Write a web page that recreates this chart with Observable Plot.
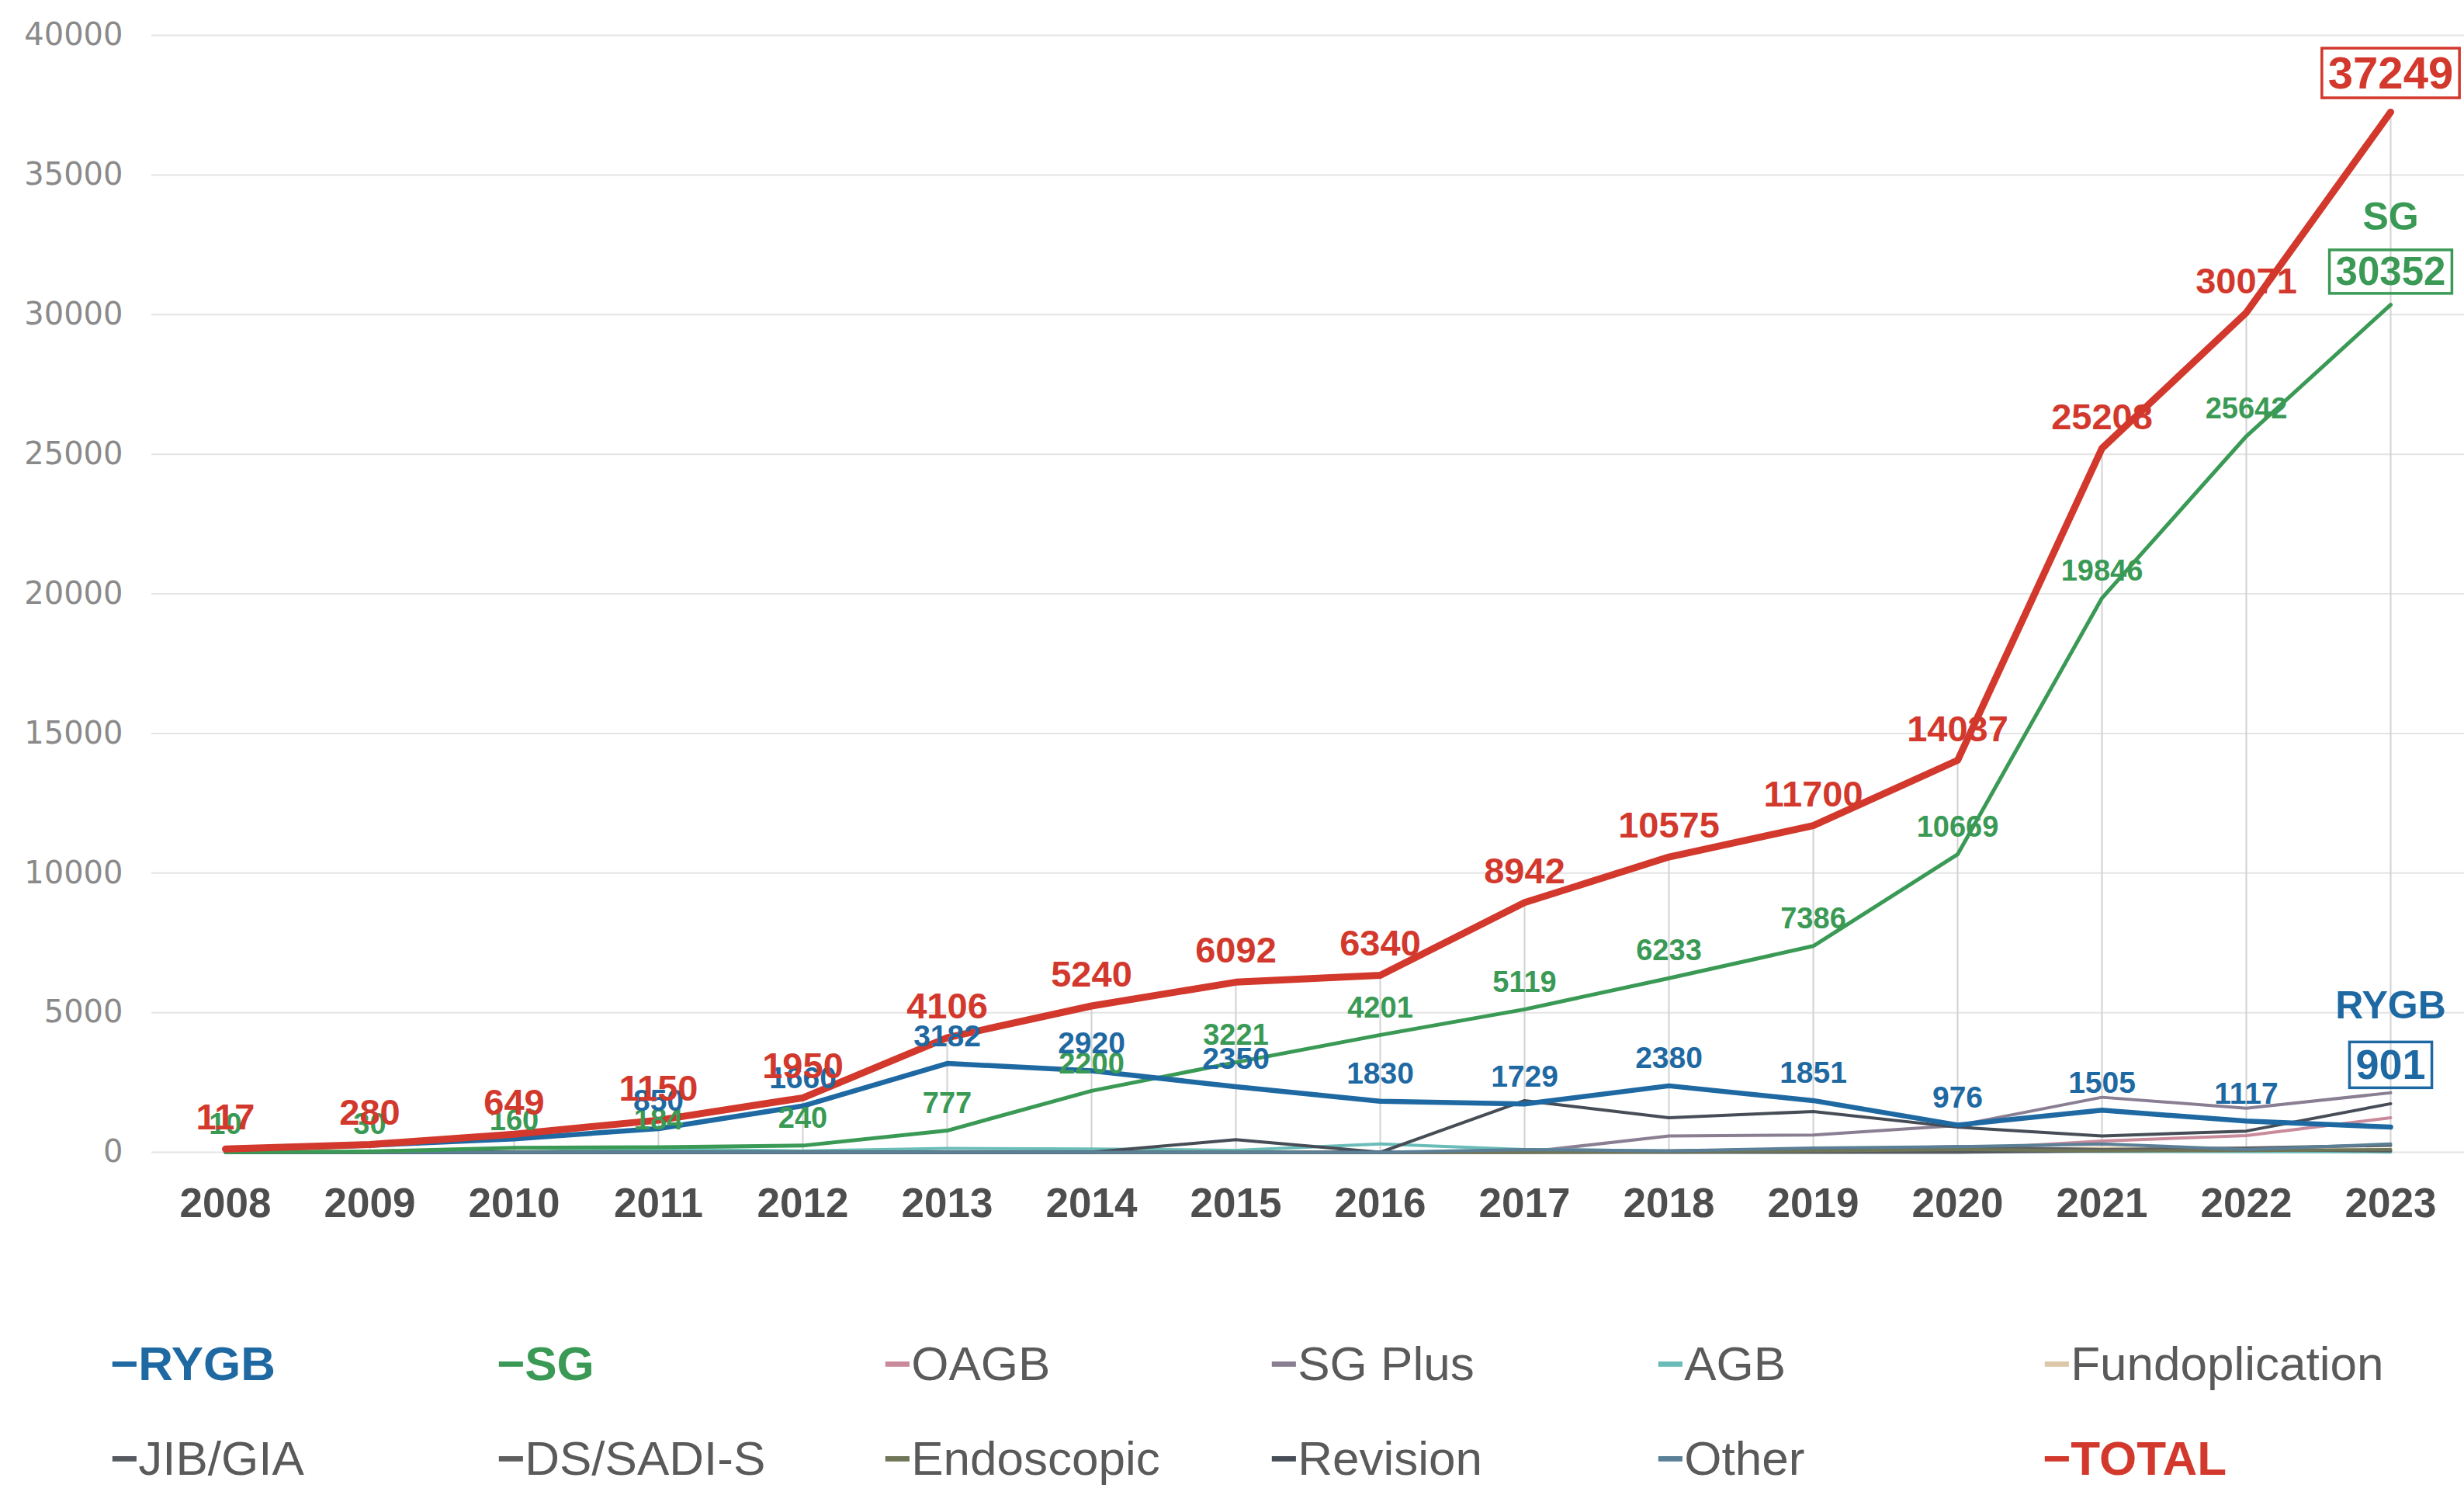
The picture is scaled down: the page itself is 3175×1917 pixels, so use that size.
<!DOCTYPE html>
<html>
<head>
<meta charset="utf-8">
<script src="https://cdn.jsdelivr.net/npm/d3@7"></script>
<script src="https://cdn.jsdelivr.net/npm/@observablehq/plot@0.6"></script>
<style>
  html, body { margin: 0; padding: 0; background: #ffffff; }
  body { width: 3175px; height: 1917px; overflow: hidden; font-family: "Liberation Sans", Arial, sans-serif; }
  #chart svg { display: block; }
  #legend {
    padding-top: 96px;
    padding-left: 142px;
    display: grid;
    grid-template-columns: repeat(6, 498px);
    grid-auto-rows: 122px;
    font-size: 62px;
    line-height: 122px;
    color: #5a5a5a;
  }
  #legend .item { white-space: nowrap; }
  #legend .dash { font-weight: bold; }
</style>
</head>
<body>
<div id="chart"></div>
<div id="legend"></div>
<script>
// ---- data ----
const years = [2008, 2009, 2010, 2011, 2012, 2013, 2014, 2015, 2016, 2017, 2018, 2019, 2020, 2021, 2022, 2023];

const total      = [117, 280, 649, 1150, 1950, 4106, 5240, 6092, 6340, 8942, 10575, 11700, 14037, 25208, 30071, 37249];
const sg         = [10, 30, 160, 184, 240, 777, 2200, 3221, 4201, 5119, 6233, 7386, 10669, 19846, 25642, 30352];
const rygb       = [107, 250, 480, 850, 1660, 3182, 2920, 2350, 1830, 1729, 2380, 1851, 976, 1505, 1117, 901];
const oagb       = [0, 0, 0, 0, 0, 0, 0, 0, 0, 0, 20, 50, 100, 400, 600, 1240];
const sgPlus     = [0, 0, 0, 0, 0, 0, 0, 0, 0, 0, 585, 620, 960, 1970, 1580, 2130];
const agb        = [0, 0, 10, 110, 50, 140, 120, 70, 300, 100, 50, 100, 50, 30, 20, 10];
const fundo      = [0, 0, 0, 0, 0, 0, 0, 0, 0, 0, 0, 50, 80, 150, 80, 100];
const jibGia     = [0, 0, 0, 0, 0, 0, 0, 0, 0, 0, 0, 0, 0, 50, 100, 50];
const dsSadi     = [0, 0, 0, 0, 0, 0, 0, 0, 0, 30, 50, 100, 200, 100, 150, 250];
const endoscopic = [0, 0, 0, 0, 0, 0, 0, 0, 0, 0, 20, 50, 100, 50, 60, 100];
const revision   = [0, 0, 0, 0, 0, 0, 0, 450, 0, 1850, 1240, 1460, 900, 585, 760, 1740];
const other      = [0, 0, 0, 0, 0, 0, 0, 0, 0, 100, 50, 150, 200, 300, 100, 300];

const seriesNames  = ["RYGB", "SG", "OAGB", "SG Plus", "AGB", "Fundoplication", "JIB/GIA", "DS/SADI-S", "Endoscopic", "Revision", "Other", "TOTAL"];
const seriesValues = [rygb, sg, oagb, sgPlus, agb, fundo, jibGia, dsSadi, endoscopic, revision, other, total];
const seriesColors = ["#1f69a3", "#3a9a55", "#c98a9b", "#8a7e93", "#6abcb8", "#dcc7a8", "#555a60", "#5e5e5e", "#6f7658", "#474d56", "#5a7f96", "#d2382c"];
const boldLegend   = ["RYGB", "SG", "TOTAL"];

const yTicks = [0, 5000, 10000, 15000, 20000, 25000, 30000, 35000, 40000];

// ---- table built from the arrays ----
const rows = seriesNames.flatMap((s, i) => years.map((yr, j) => ({series: s, year: yr, value: seriesValues[i][j]})));
const of = (name) => rows.filter(d => d.series === name);
const lastYear = years[years.length - 1];
const colorOf = (name) => seriesColors[seriesNames.indexOf(name)];
const smallSeries = seriesNames.slice(2, 11);

const svg = Plot.plot({
  width: 3175,
  height: 1600,
  marginLeft: 195,
  marginRight: 0,
  marginTop: 45,
  marginBottom: 116,
  style: {fontFamily: "'Liberation Sans', Arial, sans-serif", background: "#ffffff", overflow: "visible"},
  x: {type: "point", domain: years, padding: 0.5, label: null},
  y: {domain: [0, 40000], label: null},
  color: {domain: seriesNames, range: seriesColors},
  marks: [
    Plot.gridY({ticks: yTicks, stroke: "#e4e4e4", strokeOpacity: 1, strokeWidth: 2}),
    Plot.ruleX(of("TOTAL"), {x: "year", y1: 0, y2: "value", stroke: "#d2d2d2", strokeWidth: 2}),
    Plot.axisY({ticks: yTicks, tickSize: 0, tickPadding: 37, fontSize: 40, fill: "#8a8a8a", fontFamily: "'DejaVu Sans', sans-serif", label: null, tickFormat: d => String(d)}),
    Plot.axisX({tickSize: 0, tickPadding: 46, fontSize: 53, fontWeight: "bold", fill: "#4e4e4e", label: null, tickFormat: d => String(d)}),
    Plot.line(rows.filter(d => smallSeries.includes(d.series)), {x: "year", y: "value", z: "series", stroke: "series", strokeWidth: 4, strokeLinejoin: "round"}),
    Plot.line(of("SG"), {x: "year", y: "value", stroke: colorOf("SG"), strokeWidth: 5, strokeLinejoin: "round"}),
    Plot.line(of("RYGB"), {x: "year", y: "value", stroke: colorOf("RYGB"), strokeWidth: 6.5, strokeLinejoin: "round"}),
    Plot.line(of("TOTAL"), {x: "year", y: "value", stroke: colorOf("TOTAL"), strokeWidth: 9, strokeLinejoin: "round", strokeLinecap: "round"}),
    // value labels
    Plot.text(of("SG").filter(d => d.year < lastYear), {x: "year", y: "value", text: d => String(d.value), dy: -35, fill: colorOf("SG"), fontSize: 38, fontWeight: "bold"}),
    Plot.text(of("RYGB").filter(d => d.year >= 2011 && d.year < lastYear), {x: "year", y: "value", text: d => String(d.value), dy: -35, fill: colorOf("RYGB"), fontSize: 39, fontWeight: "bold"}),
    Plot.text(of("TOTAL").filter(d => d.year < lastYear), {x: "year", y: "value", text: d => String(d.value), dy: -40, fill: colorOf("TOTAL"), fontSize: 47, fontWeight: "bold"}),
    // end labels (boxed)
    Plot.text(of("TOTAL").filter(d => d.year === lastYear), {x: "year", y: "value", text: d => String(d.value), dy: -49, fill: colorOf("TOTAL"), fontSize: 58, fontWeight: "bold", ariaDescription: "boxed"}),
    Plot.text(of("SG").filter(d => d.year === lastYear), {x: "year", y: "value", text: d => d.series, dy: -113, fill: colorOf("SG"), fontSize: 50, fontWeight: "bold"}),
    Plot.text(of("SG").filter(d => d.year === lastYear), {x: "year", y: "value", text: d => String(d.value), dy: -42, fill: colorOf("SG"), fontSize: 51, fontWeight: "bold", ariaDescription: "boxed"}),
    Plot.text(of("RYGB").filter(d => d.year === lastYear), {x: "year", y: "value", text: d => d.series, dy: -156, fill: colorOf("RYGB"), fontSize: 50, fontWeight: "bold"}),
    Plot.text(of("RYGB").filter(d => d.year === lastYear), {x: "year", y: "value", text: d => String(d.value), dy: -79, fill: colorOf("RYGB"), fontSize: 54, fontWeight: "bold", ariaDescription: "boxed"})
  ]
});
document.getElementById("chart").append(svg);

// draw boxes around the end labels, from the rendered text bounds
svg.querySelectorAll('[aria-description="boxed"] text').forEach(t => {
  const b = t.getBBox();
  const g = t.parentNode;
  const col = t.getAttribute("fill") || g.getAttribute("fill");
  const r = document.createElementNS("http://www.w3.org/2000/svg", "rect");
  r.setAttribute("x", b.x - 8);
  r.setAttribute("y", b.y + 1);
  r.setAttribute("width", b.width + 16);
  r.setAttribute("height", b.height - 1);
  r.setAttribute("fill", "none");
  r.setAttribute("stroke", col);
  r.setAttribute("stroke-width", 3.5);
  if (t.getAttribute("transform")) r.setAttribute("transform", t.getAttribute("transform"));
  g.insertBefore(r, t);
});

// legend
const legend = document.getElementById("legend");
seriesNames.forEach((name, i) => {
  const item = document.createElement("div");
  item.className = "item";
  const dash = document.createElement("span");
  dash.className = "dash";
  dash.textContent = "\u2212";
  dash.style.color = seriesColors[i];
  const label = document.createElement("span");
  label.textContent = name;
  if (boldLegend.includes(name)) {
    label.style.color = seriesColors[i];
    label.style.fontWeight = "bold";
  }
  item.append(dash, label);
  legend.append(item);
});
</script>
</body>
</html>
